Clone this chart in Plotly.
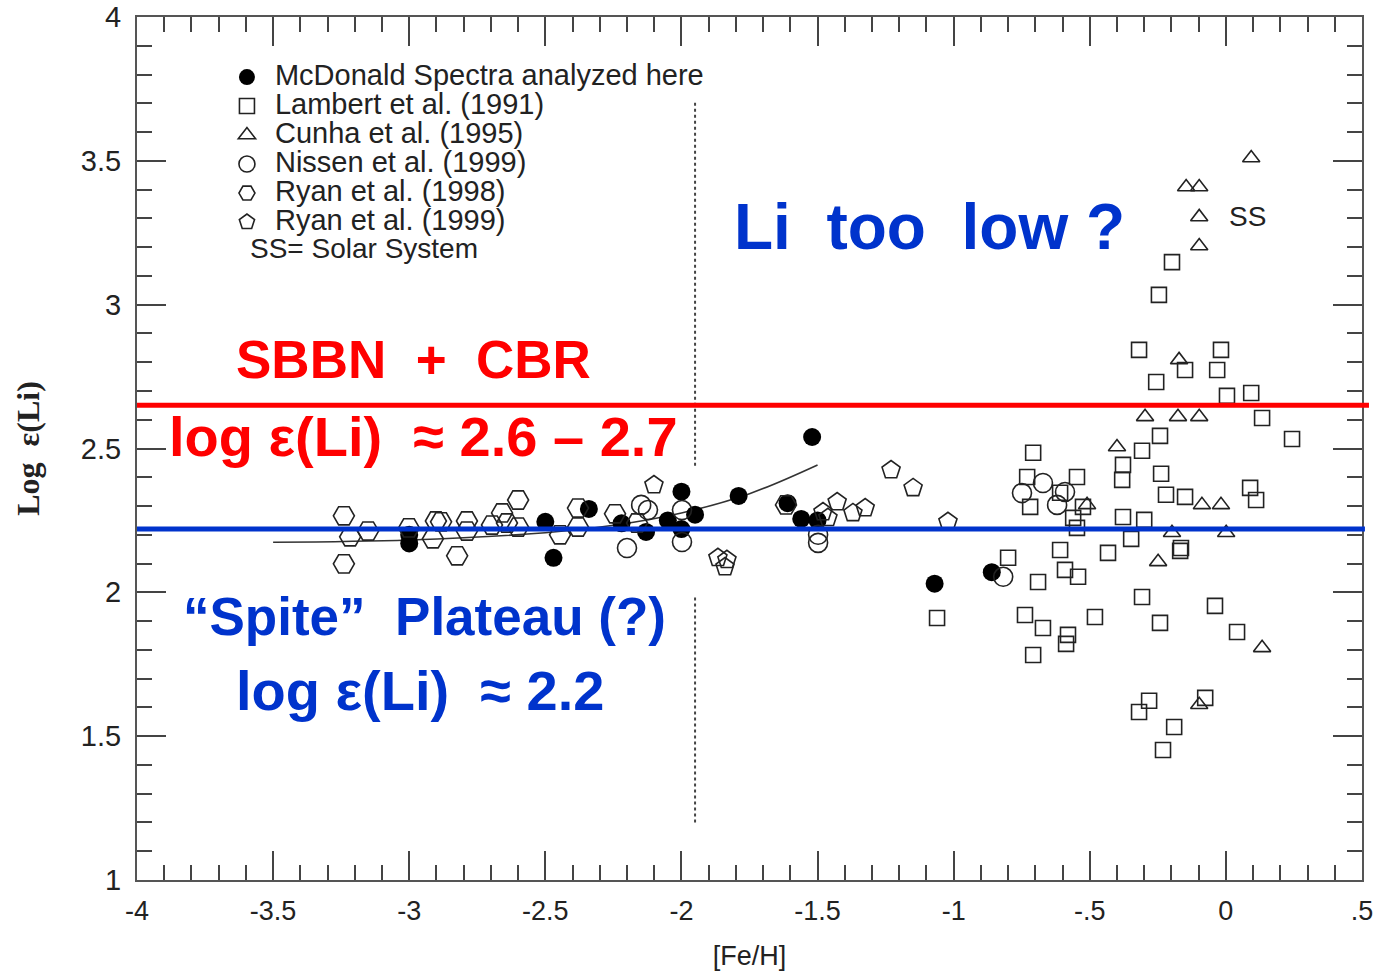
import plotly.graph_objects as go

# ---- McDonald spectra (filled circles) ----
mcd_feh = [-3.00, -3.00, -2.47, -2.50, -2.34, -2.22, -2.13, -2.05, -2.00, -2.00,
           -1.95, -1.79, -1.52, -1.61, -1.56, -1.50, -1.07, -0.86]
mcd_li = [2.20, 2.17, 2.12, 2.245, 2.29, 2.24, 2.21, 2.25, 2.35, 2.22,
          2.27, 2.335, 2.54, 2.31, 2.255, 2.25, 2.03, 2.07]

# ---- Lambert et al. (1991) (open squares) ----
lam_feh = [-0.708, -0.730, -0.547, -0.719, -0.609, -0.561, -0.547, -0.525, -0.609, -0.433,
           -0.800, -0.591, -0.543, -0.690, -0.738, -0.672, -0.481, -0.580, -0.587, -0.708,
           -0.378, -0.381, -0.378, -0.348, -0.242, -0.308, -0.238, -0.220, -0.150, 0.089,
           0.111, 0.243, 0.133, -0.300, -0.165, -0.168, -0.308, -0.242, -0.040, 0.041,
           -0.282, -0.319, -0.190, -0.231, -0.076, -0.319, -0.018, -0.150, -0.032, -0.256,
           0.004, 0.093, -0.198, -0.246, -1.061]
lam_li = [2.485, 2.401, 2.401, 2.297, 2.346, 2.259, 2.224, 2.297, 2.147, 2.137,
          2.120, 2.078, 2.054, 2.036, 1.921, 1.876, 1.914, 1.852, 1.821, 1.782,
          2.443, 2.391, 2.262, 2.186, 2.544, 2.492, 2.412, 2.339, 2.332, 2.363,
          2.321, 2.533, 2.606, 2.252, 2.154, 2.144, 1.984, 1.894, 1.953, 1.862,
          1.623, 1.584, 1.532, 1.452, 1.633, 2.843, 2.843, 2.773, 2.773, 2.731,
          2.683, 2.693, 3.148, 3.034, 1.911]

# ---- Cunha et al. (1995) (open triangles) ----
cun_feh = [0.093, -0.146, -0.098, -0.098, -0.098, -0.172, -0.297, -0.176, -0.098, -0.400,
           -0.088, -0.018, -0.198, 0.001, -0.249, 0.133, -0.098, -0.510]
cun_li = [3.510, 3.409, 3.409, 3.305, 3.204, 2.808, 2.610, 2.610, 2.610, 2.505,
          2.304, 2.304, 2.207, 2.207, 2.106, 1.807, 1.609, 2.304]

# ---- Nissen et al. (1999) (open circles) ----
nis_feh = [-2.200, -2.148, -2.123, -1.998, -1.998, -1.498, -1.498,
           -0.749, -0.672, -0.591, -0.620, -0.818]
nis_li = [2.154, 2.304, 2.286, 2.286, 2.175, 2.200, 2.172,
          2.345, 2.380, 2.349, 2.304, 2.054]

# ---- Ryan et al. (1998) (open hexagons) ----
r98_feh = [-3.240, -3.217, -3.240, -3.151, -3.001, -2.902, -2.883, -2.913, -2.824, -2.788,
           -2.788, -2.696, -2.659, -2.641, -2.600, -2.600, -2.446, -2.380, -2.380, -2.244,
           -2.163, -1.616]
r98_li = [2.266, 2.193, 2.099, 2.213, 2.224, 2.248, 2.245, 2.186, 2.127, 2.248,
          2.213, 2.234, 2.276, 2.241, 2.321, 2.227, 2.200, 2.293, 2.227, 2.273,
          2.241, 2.304]

# ---- Ryan et al. (1999) (open pentagons) ----
r99_feh = [-2.101, -1.866, -1.833, -1.840, -1.480, -1.462, -1.428, -1.370, -1.325,
           -1.230, -1.149, -1.021]
r99_li = [2.373, 2.120, 2.113, 2.088, 2.279, 2.259, 2.314, 2.276, 2.293,
          2.425, 2.363, 2.245]

# ---- trend curve through the metal-poor stars ----
fit_feh = [-3.5, -3.0, -2.5, -2.25, -2.0, -1.75, -1.5]
fit_li = [2.174, 2.182, 2.207, 2.233, 2.276, 2.343, 2.443]

# ---- reference levels ----
sbbn_level = 2.65
plateau_level = 2.22

x_ticks = [-4, -3.5, -3, -2.5, -2, -1.5, -1, -0.5, 0, 0.5]
x_ticktext = ["-4", "-3.5", "-3", "-2.5", "-2", "-1.5", "-1", "-.5", "0", ".5"]
y_ticks = [1, 1.5, 2, 2.5, 3, 3.5, 4]
y_ticktext = ["1", "1.5", "2", "2.5", "3", "3.5", "4"]

INK = "#222222"
RED = "#ff0000"
BLUE = "#0033cc"
LEG = '<span style="font-size:29px">{}</span>'

fig = go.Figure()

fig.add_trace(go.Scatter(x=fit_feh, y=fit_li, mode="lines", line=dict(color="#333333", width=1.6, shape="spline"),
                         showlegend=False, hoverinfo="skip"))


def open_series(xs, ys, symbol, size, name):
    fig.add_trace(go.Scatter(
        x=xs, y=ys, mode="markers", name=LEG.format(name),
        marker=dict(symbol=symbol, size=size, color=INK, line=dict(color=INK, width=1.6)),
    ))


fig.add_trace(go.Scatter(
    x=mcd_feh, y=mcd_li, mode="markers", name=LEG.format("McDonald Spectra analyzed here"),
    marker=dict(symbol="circle", size=18, color="#000000", line=dict(width=0)),
))
open_series(lam_feh, lam_li, "square-open", 15, "Lambert et al. (1991)")
open_series(cun_feh, cun_li, "triangle-up-open", 15, "Cunha et al. (1995)")
open_series(nis_feh, nis_li, "circle-open", 19, "Nissen et al. (1999)")
open_series(r98_feh, r98_li, "hexagon2-open", 21, "Ryan et al. (1998)")
open_series(r99_feh, r99_li, "pentagon-open", 19, "Ryan et al. (1999)")

# horizontal reference lines and the dotted divider
fig.add_shape(type="line", xref="paper", yref="y", x0=0, x1=1.0057, y0=sbbn_level, y1=sbbn_level,
              line=dict(color=RED, width=5), layer="above")
fig.add_shape(type="line", xref="paper", yref="y", x0=0, x1=1.0024, y0=plateau_level, y1=plateau_level,
              line=dict(color=BLUE, width=5), layer="above")
for y0, y1 in [(2.44, 3.71), (1.20, 1.985)]:
    fig.add_shape(type="line", xref="x", yref="y", x0=-1.95, x1=-1.95, y0=y0, y1=y1,
                  line=dict(color="#444444", width=2, dash="dot"), layer="below")

NB = "\u00a0"


def label(text, x, y, color, size, xanchor="left", bold=True):
    fig.add_annotation(x=x, y=y, xref="x", yref="y", text=f"<b>{text}</b>" if bold else text,
                       showarrow=False, xanchor=xanchor, yanchor="middle",
                       font=dict(family="Liberation Sans, Arial", size=size, color=color))


label(f"Li{NB}{NB}too{NB}{NB}low{NB}?", -1.815, 3.27, BLUE, 64)
label(f"SBBN{NB}{NB}+{NB}{NB}CBR", -3.645, 2.808, RED, 53)
label(f"log{NB}ε(Li){NB}{NB}≈{NB}2.6{NB}–{NB}2.7", -3.89, 2.54, RED, 56)
label(f"“Spite”{NB}{NB}Plateau{NB}(?)", -3.84, 1.915, BLUE, 53)
label(f"log{NB}ε(Li){NB}{NB}≈{NB}2.2", -3.645, 1.66, BLUE, 56)
label("SS", 0.078, 3.305, INK, 28, xanchor="center", bold=False)

fig.add_annotation(x=0.0906, y=0.7315, xref="paper", yref="paper", text="SS= Solar System",
                   showarrow=False, xanchor="left", yanchor="middle",
                   font=dict(family="Liberation Sans, Arial", size=28, color=INK))

axis_common = dict(
    showline=True, linecolor="#555555", linewidth=2, mirror="allticks",
    ticks="inside", ticklen=29, tickwidth=1.5, tickcolor="#444444",
    showgrid=False, zeroline=False,
)

fig.update_xaxes(range=[-4, 0.5], tickvals=x_ticks, ticktext=x_ticktext,
                 tickfont=dict(family="Liberation Sans, Arial", size=27, color=INK), ticklabelstandoff=6,
                 minor=dict(dtick=0.1, tick0=-4, ticks="inside", ticklen=15, tickwidth=1.5, tickcolor="#444444"),
                 title=dict(text="[Fe/H]", font=dict(family="Liberation Sans, Arial", size=27, color=INK), standoff=22),
                 **axis_common)
fig.update_yaxes(range=[1, 4], tickvals=y_ticks, ticktext=y_ticktext,
                 tickfont=dict(family="Liberation Sans, Arial", size=29, color=INK), ticklabelstandoff=8,
                 minor=dict(dtick=0.1, tick0=1, ticks="inside", ticklen=15, tickwidth=1.5, tickcolor="#444444"),
                 title=dict(text=f"<b>Log{NB}{NB}ε(Li)</b>", font=dict(family="Liberation Serif, Times New Roman", size=32, color=INK), standoff=32),
                 **axis_common)

fig.update_layout(
    width=1380, height=971,
    margin=dict(l=137, r=18, t=17, b=91, autoexpand=False),
    paper_bgcolor="white", plot_bgcolor="white",
    showlegend=True,
    legend=dict(x=0.0669, y=0.953, xanchor="left", yanchor="top", bgcolor="rgba(0,0,0,0)",
                borderwidth=0, font=dict(family="Liberation Sans, Arial", size=20, color=INK),
                itemwidth=46, tracegroupgap=0, traceorder="normal"),
)

fig.write_html("out.html")
